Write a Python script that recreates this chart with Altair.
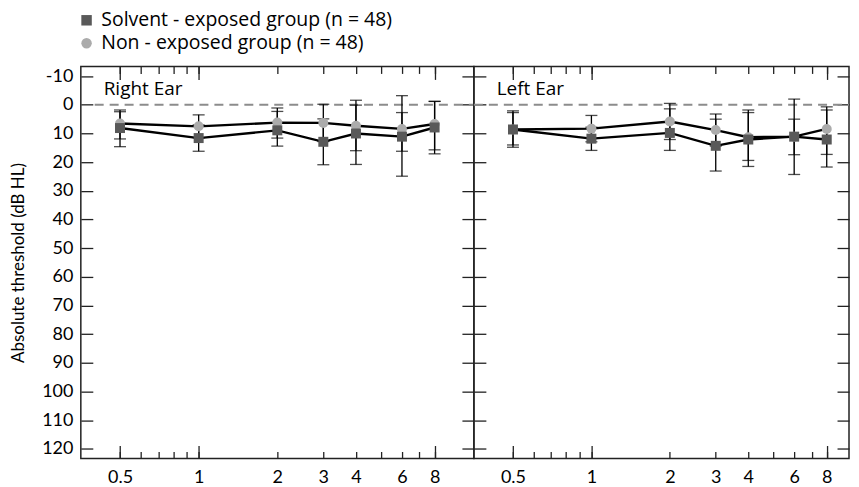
import altair as alt
import pandas as pd

FONT = "Lato"
FONT2 = "Open Sans"

freqs = [0.5, 1, 2, 3, 4, 6, 8]
groups = ["Solvent - exposed group (n = 48)", "Non - exposed group (n = 48)"]
ears = ["Right Ear", "Left Ear"]

# Right ear
r_solv_mean = [8.1, 11.6, 8.9, 12.9, 10.0, 11.1, 7.9]
r_solv_top = [1.8, 7.0, 2.3, 4.9, 0.1, -3.2, -1.2]
r_solv_bot = [14.6, 16.2, 14.4, 20.9, 20.8, 24.9, 17.1]
r_non_mean = [6.5, 7.5, 6.2, 6.3, 7.3, 8.4, 6.7]
r_non_top = [2.4, 3.5, 1.1, -0.2, -1.6, 2.7, -1.2]
r_non_bot = [11.9, 11.5, 11.6, 12.8, 16.0, 16.2, 15.7]

# Left ear
l_solv_mean = [8.6, 11.8, 9.8, 14.3, 12.1, 11.1, 12.1]
l_solv_top = [2.1, 7.8, 1.4, 5.0, 2.7, -2.0, 1.8]
l_solv_bot = [14.0, 15.9, 15.9, 23.1, 21.5, 24.3, 21.7]
l_non_mean = [8.6, 8.3, 5.8, 8.8, 11.3, 11.1, 8.4]
l_non_top = [2.7, 3.7, -0.5, 3.2, 1.8, 5.0, 0.7]
l_non_bot = [14.8, 12.9, 12.1, 14.4, 19.4, 17.4, 17.3]

x_domain_left = [0.354, 11.31]
x_domain_right = [0.354, 9.74]   # right panel is cut off at the page edge
y_domain = [-13.4, 123.4]
y_ticks = list(range(-10, 121, 10))
x_major = [0.5, 1, 8]
x_minor = [0.5, 0.6, 0.7, 0.8, 0.9, 1, 2, 3, 4, 5, 6, 7, 8]
x_labelled = [0.5, 1, 2, 3, 4, 6, 8]

rows = []
series = {
    "Right Ear": [(groups[0], r_solv_mean, r_solv_top, r_solv_bot),
                  (groups[1], r_non_mean, r_non_top, r_non_bot)],
    "Left Ear": [(groups[0], l_solv_mean, l_solv_top, l_solv_bot),
                 (groups[1], l_non_mean, l_non_top, l_non_bot)],
}
for ear, lst in series.items():
    for g, m, t, b in lst:
        for f, mv, tv, bv in zip(freqs, m, t, b):
            rows.append({"ear": ear, "group": g, "freq": f, "mean": mv,
                         "top": tv, "bot": bv, "order": groups.index(g)})
df = pd.DataFrame(rows)

ys = alt.Scale(domain=y_domain, reverse=True, nice=False, zero=False)

lab_expr = "indexof([0.5,1,2,3,4,6,8], datum.value) >= 0 ? datum.label : ''"
ylab_expr = "datum.value < 0 ? '-' + abs(datum.value) : datum.label"


def xaxis(orient, major, labels=False):
    size = 13 if major else 7
    kw = dict(orient=orient, values=x_major if major else x_minor, tickSize=size,
              offset=-size, domain=False, grid=False, title=None,
              labels=labels, labelOverlap=False, labelFlush=False, labelBound=False)
    if labels:
        kw.update(format="~g", labelExpr=lab_expr, labelPadding=10)
    return alt.Axis(**kw)


def yaxis(orient, labels=False):
    kw = dict(orient=orient, values=y_ticks, tickSize=12, offset=-12, domain=False,
              grid=False, labels=labels, labelOverlap=False, labelPadding=8,
              labelFlush=False)
    if labels:
        kw.update(title="Absolute threshold (dB HL)", titlePadding=14, labelExpr=ylab_expr)
    else:
        kw.update(title=None)
    return alt.Axis(**kw)


leg = dict(title=None, orient="none", legendX=-4, legendY=-56, labelFont=FONT2,
           labelFontSize=19.5, labelColor="black", symbolSize=110, labelOffset=5,
           rowPadding=2, symbolStrokeWidth=0, labelLimit=0)


def panel(ear, first, width):
    xd = x_domain_left if first else x_domain_right
    xs = alt.Scale(type="log", domain=xd, nice=False)
    d = df[df.ear == ear]
    base = alt.Chart(d)
    rule_df = pd.DataFrame({"x": [0.4 if first else xd[0]], "x2": [xd[1]], "y": [0]})
    dashed = alt.Chart(rule_df).mark_rule(color="#8c8c8c", strokeWidth=2, strokeDash=[9, 6]).encode(
        x=alt.X("x:Q", scale=xs, axis=xaxis("bottom", True)),
        x2="x2:Q",
        y=alt.Y("y:Q", scale=ys, axis=yaxis("left", labels=first)),
    )
    err = base.mark_rule(color="black", strokeWidth=1.3).encode(
        x=alt.X("freq:Q", scale=xs, axis=xaxis("bottom", False, labels=True)),
        y=alt.Y("top:Q", scale=ys, axis=yaxis("right")),
        y2="bot:Q",
    )
    caps = base.transform_fold(["top", "bot"], as_=["k", "v"]).mark_tick(
        orient="horizontal", color="black", size=12, thickness=1.3).encode(
        x=alt.X("freq:Q", scale=xs, axis=xaxis("top", True)),
        y=alt.Y("v:Q", scale=ys, axis=None),
    )
    lines = base.mark_line(color="black", strokeWidth=2.4).encode(
        x=alt.X("freq:Q", scale=xs, axis=xaxis("top", False)),
        y=alt.Y("mean:Q", scale=ys, axis=None),
        detail="group:N",
    )
    pts = base.mark_point(filled=True, size=100, opacity=1).encode(
        x=alt.X("freq:Q", scale=xs, axis=None),
        y=alt.Y("mean:Q", scale=ys, axis=None),
        shape=alt.Shape("group:N", scale=alt.Scale(domain=groups, range=["square", "circle"]),
                        legend=alt.Legend(**leg)),
        color=alt.Color("group:N", scale=alt.Scale(domain=groups, range=["#595959", "#ababab"]),
                        legend=alt.Legend(**leg)),
        order=alt.Order("order:Q", sort="descending"),
    )
    lab_df = pd.DataFrame({"x": [0.433], "y": [-3.6], "t": [ear]})
    label = alt.Chart(lab_df).mark_text(align="left", baseline="alphabetic", font=FONT2,
                                        fontSize=19, color="black").encode(
        x=alt.X("x:Q", scale=xs, axis=None),
        y=alt.Y("y:Q", scale=ys, axis=None),
        text="t:N",
    )
    return alt.layer(dashed, err, caps, lines, pts, label).resolve_axis(
        x="independent", y="independent").properties(width=width, height=393)


chart = alt.hconcat(panel("Right Ear", True, 394), panel("Left Ear", False, 376),
                    spacing=0, bounds="flush").properties(
    padding={"left": 0, "top": 2, "right": 0, "bottom": 0}
).configure_view(stroke="#222222", strokeWidth=1.5).configure_axis(
    tickColor="#222222", tickWidth=1.3, labelFont=FONT, labelFontSize=18, labelColor="black",
    titleFont=FONT, titleFontSize=17, titleFontWeight="normal", titleColor="black"
)

chart.save("out.html", embed_options={"renderer": "svg", "actions": False})
